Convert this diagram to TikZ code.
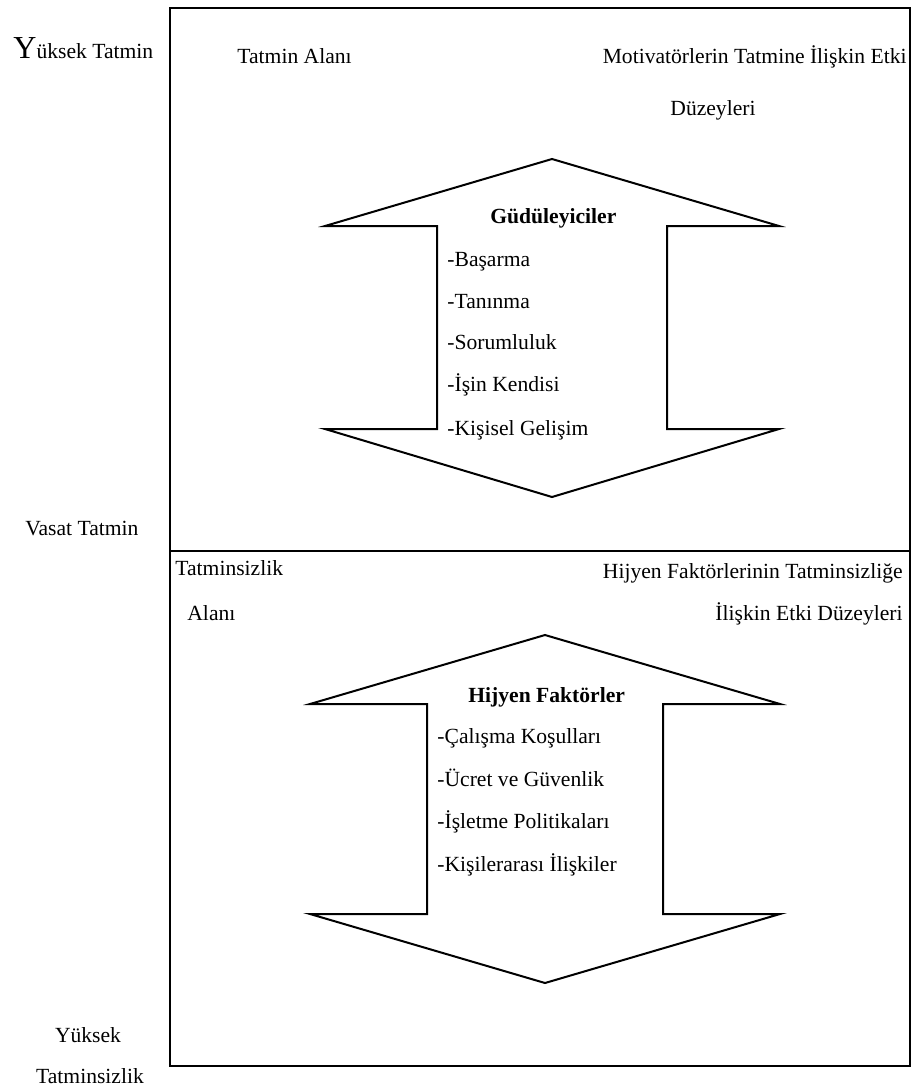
\documentclass[tikz,border=0pt]{standalone}
\usepackage{fontspec}
\setmainfont{Liberation Serif}
\usetikzlibrary{positioning}

\begin{document}
\begin{tikzpicture}[x=0.5pt, y=-0.5pt,
    every node/.style={font=\fontsize{10.8}{13}\selectfont, inner sep=0pt},
    frame/.style={line width=1.4pt},
    bigarrow/.style={line width=1pt, line join=miter},
    item/.style={anchor=base west}]
  \useasboundingbox (0,0) rectangle (914,1088);
  % satisfaction / dissatisfaction areas
  \draw[frame] (170,8) rectangle (910,551);
  \draw[frame] (170,551) rectangle (910,1066);
  % motivators arrow
  \draw[bigarrow] (552,159) -- (779,226) -- (667,226) -- (667,429) -- (779,429)
        -- (552,497) -- (325,429) -- (437,429) -- (437,226) -- (325,226) -- cycle;
  % hygiene arrow
  \draw[bigarrow] (545,635) -- (780,704) -- (663,704) -- (663,914) -- (780,914)
        -- (545,983) -- (310,914) -- (427,914) -- (427,704) -- (310,704) -- cycle;

  % scale on the left
  \node[anchor=base west] (yuksekT) at (13,58) {{\fontsize{16}{16}\selectfont Y}üksek Tatmin};
  \node[anchor=base west] (vasat) at (25,535) {Vasat Tatmin};
  \node[anchor=base] (yuksekTs) at (88,1042) {Yüksek};
  \node[anchor=base] (tatminsizlik) at (90,1083) {Tatminsizlik};

  % upper area
  \node[anchor=base west] (tAlan) at (237,63) {Tatmin Alanı};
  \node[anchor=base east] (motiv) at (907,63) {Motivatörlerin Tatmine İlişkin Etki};
  \node[anchor=base west] (motivb) at (670,115) {Düzeyleri};
  \node[anchor=base west, font=\fontsize{10.8}{13}\selectfont\bfseries] (gud) at (490,223) {Güdüleyiciler};
  \node[item] (g1) at (447,266) {-Başarma};
  \node[item] (g2) at (447,308) {-Tanınma};
  \node[item] (g3) at (447,349) {-Sorumluluk};
  \node[item] (g4) at (447,391) {-İşin Kendisi};
  \node[item] (g5) at (447,435) {-Kişisel Gelişim};

  % lower area
  \node[anchor=base west] (tsAlan) at (175,575) {Tatminsizlik};
  \node[anchor=base west] (tsAlanb) at (187,620) {Alanı};
  \node[anchor=base east] (hij) at (903,578) {Hijyen Faktörlerinin Tatminsizliğe};
  \node[anchor=base east] (hijb) at (903,620) {İlişkin Etki Düzeyleri};
  \node[anchor=base west, font=\fontsize{10.8}{13}\selectfont\bfseries] (hf) at (468,702) {Hijyen Faktörler};
  \node[item] (h1) at (437,743) {-Çalışma Koşulları};
  \node[item] (h2) at (437,786) {-Ücret ve Güvenlik};
  \node[item] (h3) at (437,828) {-İşletme Politikaları};
  \node[item] (h4) at (437,871) {-Kişilerarası İlişkiler};
\end{tikzpicture}
\end{document}
